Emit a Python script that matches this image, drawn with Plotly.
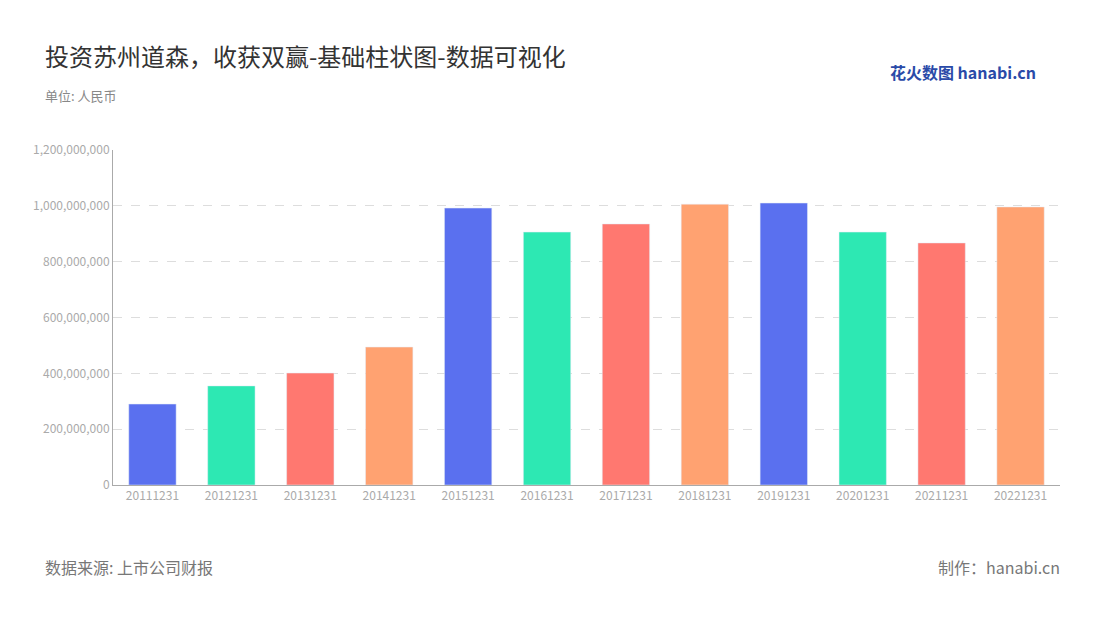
import plotly.graph_objects as go

categories = ["20111231","20121231","20131231","20141231","20151231","20161231",
              "20171231","20181231","20191231","20201231","20211231","20221231"]
values = [290e6, 355e6, 401e6, 494e6, 992e6, 906e6, 935e6, 1006e6, 1010e6, 906e6, 867e6, 996e6]
palette = ["#5a70ef", "#2de8b3", "#ff7870", "#ffa271"]
tick_vals = [0, 200e6, 400e6, 600e6, 800e6, 1000e6, 1200e6]
tick_text = ["0", "200,000,000", "400,000,000", "600,000,000", "800,000,000", "1,000,000,000", "1,200,000,000"]

colors = [palette[i % 4] for i in range(len(categories))]
font = "Noto Sans CJK SC"

PX0, PX1, PY0, PY1 = 113, 1060, 150, 485
def px(X): return (X - PX0) / (PX1 - PX0)
def py(Y): return (PY1 - Y) / (PY1 - PY0)

fig = go.Figure(go.Bar(x=categories, y=values, marker_color=colors, width=0.6))
fig.update_layout(
    width=1100, height=620, plot_bgcolor="white", paper_bgcolor="white",
    margin=dict(l=105, r=48, t=142, b=143),
    font=dict(family=font, color="#999"),
    showlegend=False,
)
fig.update_xaxes(type="category", showline=True, linecolor="#aaa", ticks="", tickfont=dict(size=12, color="#aaa"))
fig.update_yaxes(range=[0, 1.2e9], tickvals=tick_vals, ticktext=tick_text, showgrid=True,
                 gridcolor="#ddd", griddash="dash", zeroline=False, showline=True, linecolor="#aaa",
                 tickfont=dict(size=12, color="#aaa"))
ann = [
    dict(text="投资苏州道森，收获双赢-基础柱状图-数据可视化", x=43, y=55, anchor="left", font=dict(size=24, color="#333")),
    dict(text="单位: 人民币", x=43, y=96, anchor="left", font=dict(size=13, color="#888")),
    dict(text="数据来源: 上市公司财报", x=43, y=567, anchor="left", font=dict(size=16, color="#777")),
    dict(text="制作：hanabi.cn", x=1062, y=567, anchor="right", font=dict(size=16, color="#777")),
    dict(text="<b>花火数图</b> <b>hanabi.cn</b>", x=1038, y=72, anchor="right", font=dict(size=16, color="#2a4aa8")),
]
for a in ann:
    fig.add_annotation(text=a["text"], x=px(a["x"]), y=py(a["y"]), xref="paper", yref="paper",
                       xanchor=a["anchor"], yanchor="middle", showarrow=False,
                       font=dict(family=font, **a["font"]))
fig.write_html("out.html")
